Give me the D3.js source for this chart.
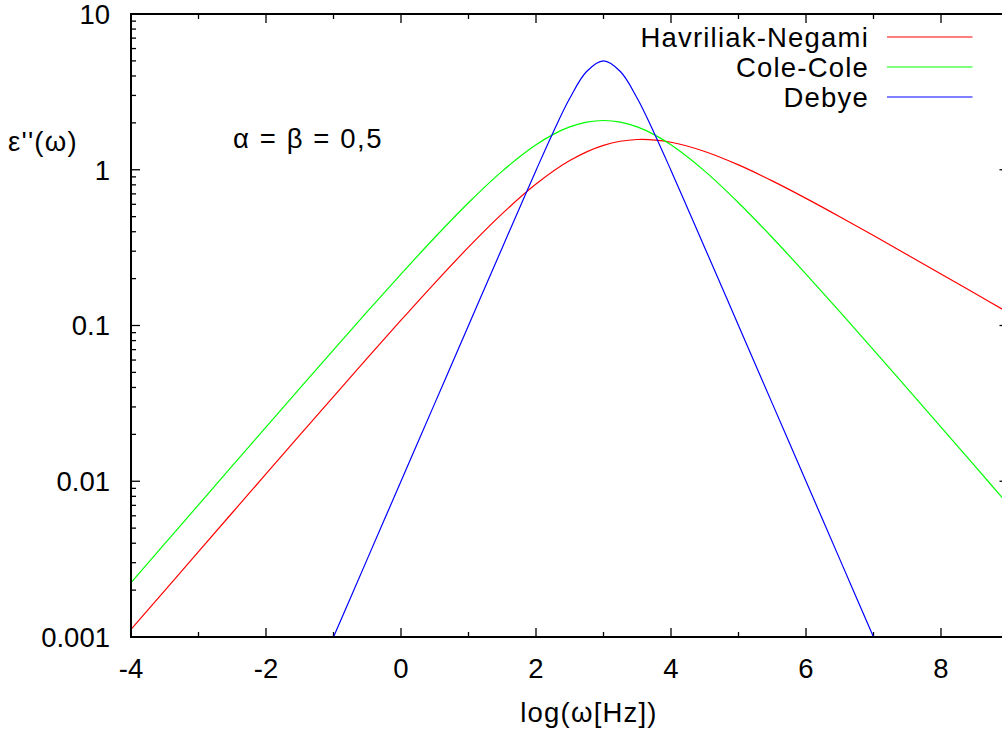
<!DOCTYPE html>
<html>
<head>
<meta charset="utf-8">
<script src="https://cdn.jsdelivr.net/npm/d3@7"></script>
<style>
  html, body { margin: 0; padding: 0; background: #fff; }
  svg { display: block; }
  text { font-family: "Liberation Sans", Arial, Helvetica, sans-serif; fill: #000; }
  .wide { letter-spacing: 1.2px; }
</style>
</head>
<body>
<svg id="chart" width="1002" height="736"></svg>
<script>
// log10(omega) sample positions and dielectric loss values for each relaxation model
const hnX = [-4, -3.5, -3, -2.5, -2, -1.5, -1, -0.5, 0, 0.5, 1, 1.5, 2, 2.5, 3, 3.5, 4, 4.5, 5, 5.5, 6, 6.5, 7, 7.5, 8, 8.5, 9];
const hnY = [0.0011177, 0.0019870, 0.0035318, 0.0062755, 0.011143, 0.019764, 0.034983, 0.061696, 0.10812, 0.18735,
             0.31825, 0.52231, 0.80922, 1.14604, 1.43522, 1.56384, 1.50124, 1.31042, 1.07462, 0.84845,
             0.65515, 0.49951, 0.37810, 0.28504, 0.21438, 0.16103, 0.12087];

const ccX = [-4, -3.5, -3, -2.5, -2, -1.5, -1, -0.5, 0, 0.5, 1, 1.5, 2, 2.25, 2.5, 2.75, 3, 3.25, 3.5, 3.75, 4, 4.5, 5, 5.5, 6, 6.5, 7, 7.5, 8, 8.5, 9];
const ccY = [0.0022351, 0.0039732, 0.0070611, 0.012543, 0.022261, 0.039449, 0.069718, 0.12262, 0.21383, 0.36727,
             0.61413, 0.97999, 1.44523, 1.68069, 1.88320, 2.02165, 2.07107, 2.02165, 1.88320, 1.68069,
             1.44523, 0.97999, 0.61413, 0.36727, 0.21383, 0.12262, 0.069718, 0.039449, 0.022261, 0.012543, 0.0070611];

const dbX = [-1.5, -1, -0.5, 0, 0.5, 1, 1.5, 1.75, 2, 2.25, 2.5, 2.75, 3, 3.25, 3.5, 3.75, 4, 4.25, 4.5, 5, 5.5, 6, 6.5, 7, 7.5];
const dbY = [0.0003162, 0.001, 0.003162, 0.01, 0.03162, 0.09999, 0.3159, 0.5605, 0.9901, 1.7238, 2.8748, 4.2724, 5,
             4.2724, 2.8748, 1.7238, 0.9901, 0.5605, 0.3159, 0.09999, 0.03162, 0.01, 0.003162, 0.001, 0.0003162];

const seriesNames = ["Havriliak-Negami", "Cole-Cole", "Debye"];
const seriesColors = ["#ff0000", "#00ff00", "#0000ff"];

const xMajorTicks = [-4, -2, 0, 2, 4, 6, 8];
const xMinorTicks = [-3, -1, 1, 3, 5, 7, 9];
const yMajorTicks = [0.001, 0.01, 0.1, 1, 10];
const yTickLabels = ["0.001", "0.01", "0.1", "1", "10"];

const xTitle = "log(\u03c9[Hz])";
const yTitle = "\u03b5''(\u03c9)";
const note = "\u03b1 = \u03b2 = 0,5";

const svg = d3.select("#chart");
const L = 131, R = 1008.5, T = 14, B = 637;

const x = d3.scaleLinear().domain([-4, 9]).range([L, R]);
const y = d3.scaleLog().domain([0.001, 10]).range([B, T]);

// minor log ticks 2..9 within each decade
const yMinorTicks = [];
for (let d = 0; d < yMajorTicks.length - 1; d++) {
  for (let k = 2; k <= 9; k++) yMinorTicks.push(yMajorTicks[d] * k);
}

svg.append("defs").append("clipPath").attr("id", "plotClip")
  .append("rect").attr("x", L).attr("y", T).attr("width", R - L).attr("height", B - T);

const FS = 27.5;

// ticks, drawn inward on all four sides
const tickG = svg.append("g").attr("stroke", "#000").attr("stroke-width", 1.3);
function xTick(v, len) {
  tickG.append("line").attr("x1", x(v)).attr("x2", x(v)).attr("y1", B).attr("y2", B - len);
  tickG.append("line").attr("x1", x(v)).attr("x2", x(v)).attr("y1", T).attr("y2", T + len);
}
function yTick(v, len) {
  tickG.append("line").attr("x1", L).attr("x2", L + len).attr("y1", y(v)).attr("y2", y(v));
  tickG.append("line").attr("x1", R).attr("x2", R - len).attr("y1", y(v)).attr("y2", y(v));
}
xMajorTicks.forEach(v => xTick(v, 9));
xMinorTicks.forEach(v => xTick(v, 5));
yMajorTicks.forEach(v => yTick(v, 9));
yMinorTicks.forEach(v => yTick(v, 5));

// tick labels
svg.append("g").selectAll("text").data(xMajorTicks).join("text")
  .attr("x", d => x(d)).attr("y", B + 41)
  .attr("text-anchor", "middle").attr("font-size", FS)
  .text(d => d);
svg.append("g").selectAll("text").data(yMajorTicks).join("text")
  .attr("x", 110).attr("y", d => y(d)).attr("dy", "0.36em")
  .attr("text-anchor", "end").attr("font-size", FS)
  .text((d, i) => yTickLabels[i]);

// curves
const line = d3.line()
  .x(d => x(d[0]))
  .y(d => y(d[1]))
  .curve(d3.curveCatmullRom.alpha(0.5));

const series = [
  d3.zip(hnX, hnY),
  d3.zip(ccX, ccY),
  d3.zip(dbX, dbY)
];

const plot = svg.append("g").attr("clip-path", "url(#plotClip)");
series.forEach((pts, i) => {
  plot.append("path").datum(pts)
    .attr("d", line)
    .attr("fill", "none")
    .attr("stroke", seriesColors[i])
    .attr("stroke-width", 1.2);
});

// border
svg.append("rect")
  .attr("x", L).attr("y", T).attr("width", R - L).attr("height", B - T)
  .attr("fill", "none").attr("stroke", "#000").attr("stroke-width", 2);

// legend
const legend = svg.append("g");
seriesNames.forEach((name, i) => {
  const ly = 37 + i * 30;
  legend.append("text").attr("class", "wide")
    .attr("x", 869).attr("y", ly).attr("dy", "0.36em")
    .attr("text-anchor", "end").attr("font-size", FS)
    .text(name);
  legend.append("line")
    .attr("x1", x(8) - 54).attr("x2", x(9) - 36).attr("y1", ly).attr("y2", ly)
    .attr("stroke", seriesColors[i]).attr("stroke-width", 1.2);
});

// axis titles and annotation
svg.append("text").attr("class", "wide").attr("x", 589).attr("y", 722)
  .attr("text-anchor", "middle").attr("font-size", FS).text(xTitle);
svg.append("text").attr("class", "wide").attr("x", 8).attr("y", 151)
  .attr("text-anchor", "start").attr("font-size", FS).text(yTitle);
svg.append("text").attr("x", 233).attr("y", 148)
  .attr("text-anchor", "start").attr("font-size", FS)
  .style("letter-spacing", "1.6px").text(note);
</script>
</body>
</html>
